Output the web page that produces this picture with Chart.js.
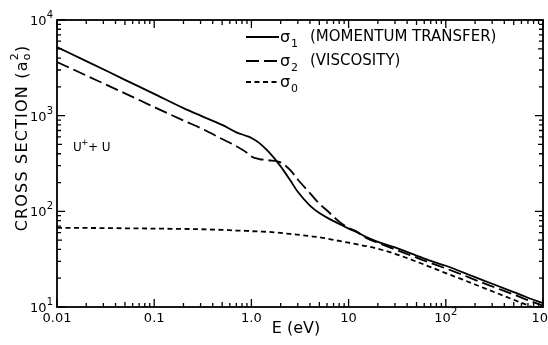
<!DOCTYPE html>
<html>
<head>
<meta charset="utf-8">
<script src="https://cdn.jsdelivr.net/npm/chart.js@4"></script>
<style>
  body { margin: 0; background: #fff; }
  #wrap { width: 548px; height: 345px; position: relative; }
</style>
</head>
<body>
<div id="wrap"><canvas id="chart"></canvas></div>
<script>
// energies (eV) and cross sections (a0^2)
const energy = [0.01, 0.02, 0.05, 0.1, 0.2, 0.3, 0.5, 0.7, 0.9, 1.0, 1.2, 1.5, 2, 2.5, 3, 4, 5, 6, 8, 10, 12, 15, 20, 30, 50, 70, 100, 150, 200, 300, 500, 700, 1000];
const sigma1 = [5200, 3720, 2370, 1690, 1200, 1000, 800, 670, 612, 585, 520, 420, 295, 212, 160, 115, 96, 86, 74, 66, 61, 54, 48, 42, 34.5, 30.3, 27, 23, 20.5, 17.5, 14.3, 12.5, 11];
const sigma2 = [3640, 2630, 1710, 1230, 890, 742, 570, 480, 410, 375, 352, 342, 325, 271, 215, 155, 120, 102, 78, 67, 62, 53, 47, 40, 32.8, 28.8, 25.3, 21.6, 19.2, 16.4, 13.5, 11.8, 10.3];
const sigma0 = [67, 67, 66.5, 66, 65.5, 65, 64, 63, 62.5, 62, 61.5, 61, 59.5, 58, 57, 55, 53.5, 52, 49, 47, 45.3, 43.4, 40.6, 36, 29.8, 26.1, 22.6, 19.3, 17.2, 14.6, 11.9, 10.4, 9.0];

const xMajor = [0.01, 0.1, 1, 10, 100, 1000];
const xLabels = ['0.01', '0.1', '1.0', '10', '10|2', '10|3'];
const yMajor = [10, 100, 1000, 10000];
const yLabels = ['10|1', '10|2', '10|3', '10|4'];

const legendNames = ['1', '2', '0'];
const legendTexts = ['(MOMENTUM TRANSFER)', '(VISCOSITY)', ''];
const dashes = [[], [13, 5], [5, 3.5]];

const FONT = '"DejaVu Sans", sans-serif';

function pts(ys) {
  return energy.map((e, i) => ({ x: e, y: ys[i] }));
}

// draws frame, inward ticks, labels, titles and legend
const decor = {
  id: 'decor',
  afterDraw(chart) {
    const ctx = chart.ctx;
    const a = chart.chartArea;
    const xs = chart.scales.x, ys = chart.scales.y;
    ctx.save();
    ctx.strokeStyle = '#000';
    ctx.fillStyle = '#000';
    ctx.lineWidth = 1.8;
    ctx.strokeRect(a.left, a.top, a.right - a.left, a.bottom - a.top);

    ctx.lineWidth = 1.3;
    // x ticks
    for (let d = -2; d <= 3; d++) {
      for (let k = 1; k <= 9; k++) {
        const v = k * Math.pow(10, d);
        if (v > 1000 + 1e-9) continue;
        const px = xs.getPixelForValue(v);
        const len = k === 1 ? 8 : (k === 5 ? 5 : 4);
        ctx.beginPath();
        ctx.moveTo(px, a.bottom); ctx.lineTo(px, a.bottom - len);
        ctx.moveTo(px, a.top); ctx.lineTo(px, a.top + len);
        ctx.stroke();
      }
    }
    // y ticks
    for (let d = 1; d <= 4; d++) {
      for (let k = 1; k <= 9; k++) {
        const v = k * Math.pow(10, d);
        if (v > 10000 + 1e-9) continue;
        const py = ys.getPixelForValue(v);
        const len = k === 1 ? 8 : (k === 5 ? 5 : 4);
        ctx.beginPath();
        ctx.moveTo(a.left, py); ctx.lineTo(a.left + len, py);
        ctx.moveTo(a.right, py); ctx.lineTo(a.right - len, py);
        ctx.stroke();
      }
    }

    // tick labels
    function drawLabel(txt, x, y, align) {
      const parts = txt.split('|');
      ctx.font = '13px ' + FONT;
      const w1 = ctx.measureText(parts[0]).width;
      ctx.font = '10px ' + FONT;
      const w2 = parts[1] ? ctx.measureText(parts[1]).width : 0;
      const total = w1 + w2;
      let x0 = align === 'right' ? x - total : x - total / 2;
      ctx.textAlign = 'left';
      ctx.textBaseline = 'alphabetic';
      ctx.font = '13px ' + FONT;
      ctx.fillText(parts[0], x0, y);
      if (parts[1]) {
        ctx.font = '10px ' + FONT;
        ctx.fillText(parts[1], x0 + w1, y - 7);
      }
    }
    xMajor.forEach((v, i) => {
      drawLabel(xLabels[i], xs.getPixelForValue(v), a.bottom + 15, 'center');
    });
    yMajor.forEach((v, i) => {
      drawLabel(yLabels[i], a.left - 4, ys.getPixelForValue(v) + 5, 'right');
    });

    // axis titles
    ctx.font = '16px ' + FONT;
    ctx.textAlign = 'center';
    ctx.textBaseline = 'middle';
    ctx.fillText('E (eV)', 296, 329);

    ctx.save();
    ctx.translate(21, 138);
    ctx.rotate(-Math.PI / 2);
    ctx.letterSpacing = '1.2px';
    ctx.font = '16px ' + FONT;
    const t1 = 'CROSS SECTION (a';
    const w1 = ctx.measureText(t1).width;
    ctx.font = '11px ' + FONT;
    const wsub = ctx.measureText('o').width;
    const wsup = ctx.measureText('2').width;
    ctx.font = '16px ' + FONT;
    const w3 = ctx.measureText(')').width;
    const tot = w1 + Math.max(wsub, wsup) + w3;
    let x0 = -tot / 2;
    ctx.textAlign = 'left';
    ctx.textBaseline = 'alphabetic';
    ctx.fillText(t1, x0, 6);
    ctx.font = '11px ' + FONT;
    ctx.fillText('o', x0 + w1, 9);
    ctx.fillText('2', x0 + w1, -3);
    ctx.font = '16px ' + FONT;
    ctx.fillText(')', x0 + w1 + Math.max(wsub, wsup), 6);
    ctx.restore();

    // reaction label
    ctx.textAlign = 'left';
    ctx.textBaseline = 'alphabetic';
    ctx.font = '12px ' + FONT;
    ctx.fillText('U', 73, 151);
    ctx.font = '9px ' + FONT;
    ctx.fillText('+', 81, 145);
    ctx.font = '12px ' + FONT;
    ctx.fillText('+ U', 88, 151);

    // legend
    const rows = [37, 61, 82];
    rows.forEach((ry, i) => {
      ctx.lineWidth = 1.8;
      ctx.setLineDash(dashes[i]);
      ctx.beginPath();
      ctx.moveTo(246, ry); ctx.lineTo(279, ry);
      ctx.stroke();
      ctx.setLineDash([]);
      ctx.font = '16px ' + FONT;
      ctx.fillText('\u03c3', 280, ry + 5);
      ctx.font = '11px ' + FONT;
      ctx.fillText(legendNames[i], 291, ry + 10);
      if (legendTexts[i]) {
        ctx.font = '15px ' + FONT;
        ctx.fillText(legendTexts[i], 310, ry + 4);
      }
    });
    ctx.restore();
  }
};

const series = [sigma1, sigma2, sigma0];
new Chart(document.getElementById('chart'), {
  type: 'scatter',
  data: {
    datasets: series.map((s, i) => ({
      label: 'sigma' + legendNames[i],
      data: pts(s),
      showLine: true,
      borderColor: '#000',
      borderWidth: 1.8,
      borderDash: dashes[i],
      pointRadius: 0,
      cubicInterpolationMode: 'monotone',
      fill: false
    }))
  },
  options: {
    responsive: true,
    maintainAspectRatio: false,
    animation: false,
    layout: { padding: { left: 57, top: 20, right: 5, bottom: 38 } },
    scales: {
      x: { type: 'logarithmic', min: 0.01, max: 1000, display: false },
      y: { type: 'logarithmic', min: 10, max: 10000, display: false }
    },
    plugins: { legend: { display: false }, tooltip: { enabled: false } }
  },
  plugins: [decor]
});
</script>
</body>
</html>
